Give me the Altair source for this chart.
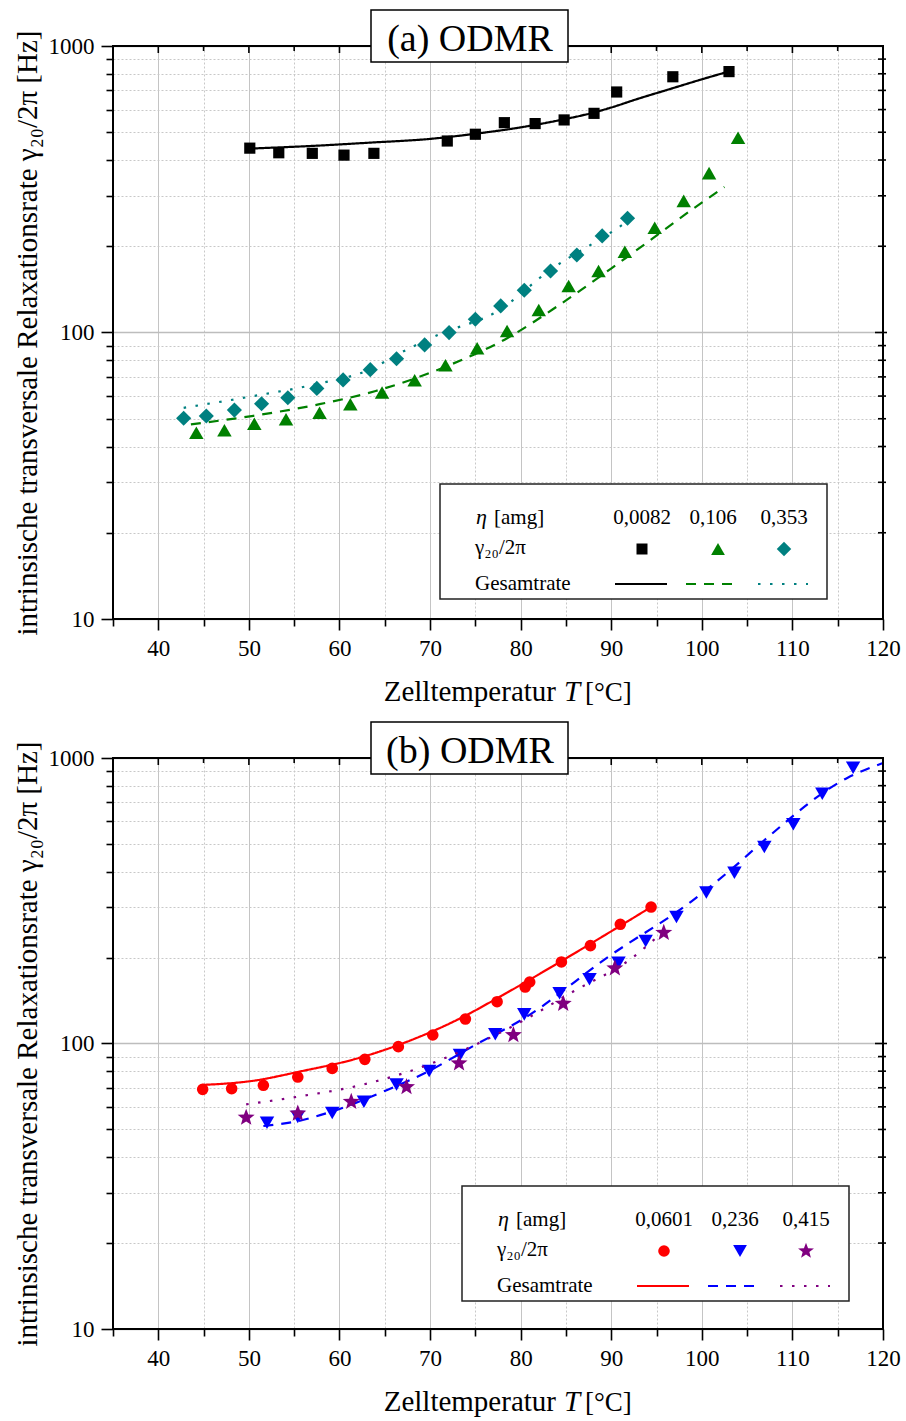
import math
import altair as alt
import pandas as pd

FONT = "Liberation Serif"

# ---------------- data: panel (a) ----------------
a_sq_T = [50.1, 53.3, 57.0, 60.5, 63.8, 71.9, 75.0, 78.2, 81.6, 84.8, 88.1, 90.6, 96.8, 103.0]
a_sq_v = [440, 424, 422, 416, 422, 466, 492, 540, 536, 552, 582, 691, 781, 814]
a_sq_fit_T = [50.5, 57.0, 63.4, 70.0, 75.0, 80.0, 84.8, 88.0, 90.0, 93.0, 96.0, 100.0, 103.0]
a_sq_fit_v = [439, 448, 460, 474, 494, 520, 555, 585, 610, 655, 700, 765, 815]

a_tri_T = [44.2, 47.3, 50.6, 54.1, 57.8, 61.2, 64.7, 68.3, 71.7, 75.2, 78.5, 82.0, 85.3, 88.6, 91.5, 94.8, 98.0, 100.8, 104.0]
a_tri_v = [44.7, 45.6, 48.0, 49.8, 52.5, 56.2, 61.7, 68.1, 76.8, 88.1, 101.2, 119.8, 145.3, 163.9, 191.4, 232, 288, 360, 478]
a_tri_fit_T = [43.6, 50.5, 57.8, 64.0, 71.9, 78.6, 84.3, 91.6, 100.0, 102.5]
a_tri_fit_v = [47.8, 51.2, 56.2, 62.5, 76.4, 95.9, 125, 182, 284, 322]

a_dia_T = [42.8, 45.3, 48.4, 51.4, 54.3, 57.5, 60.4, 63.4, 66.3, 69.4, 72.1, 75.0, 77.8, 80.4, 83.3, 86.2, 89.0, 91.8]
a_dia_v = [50.2, 51.1, 53.6, 56.4, 59.2, 63.8, 68.3, 74.2, 81.0, 90.5, 99.9, 111.2, 123.8, 140.4, 163.9, 186.4, 217.3, 250.4]
a_dia_fit_T = [42.8, 50.5, 57.3, 63.4, 66.8, 71.0, 77.5, 83.1, 90.2, 92.1]
a_dia_fit_v = [54.6, 60.0, 65.9, 74.4, 85.1, 98.5, 118.9, 163.9, 226, 248]

# ---------------- data: panel (b) ----------------
b_cir_T = [44.9, 48.1, 51.6, 55.4, 59.2, 62.8, 66.5, 70.3, 73.9, 77.4, 80.5, 81.0, 84.5, 87.7, 91.0, 94.4]
b_cir_v = [69.1, 69.5, 71.4, 76.3, 81.8, 88.0, 97.5, 107.1, 121.8, 140.1, 157.7, 164.2, 193.0, 220.2, 261.5, 300.6]
b_cir_fit_T = [44.9, 50.3, 55.9, 61.6, 67.2, 72.9, 78.5, 84.2, 89.8, 94.4]
b_cir_fit_v = [71.6, 73.9, 80.1, 88.0, 100.7, 120.6, 150.7, 191.9, 245.0, 300.6]

b_dtri_T = [52.0, 55.4, 59.2, 62.7, 66.3, 69.9, 73.3, 77.2, 80.4, 84.3, 87.6, 90.8, 93.8, 97.2, 100.5, 103.6, 106.9, 110.1, 113.3, 116.7]
b_dtri_v = [52.8, 55.3, 57.1, 62.5, 71.9, 80.1, 91.1, 107.7, 126.5, 149.9, 167.8, 191.9, 228.6, 277.6, 338, 396.5, 487.8, 585.6, 749.9, 924.7]
b_dtri_fit_T = [51.6, 55.4, 59.3, 65.0, 69.5, 75.1, 80.2, 89.8, 98.9, 103.7, 106.8, 116.1, 120.0]
b_dtri_fit_v = [51.4, 53.5, 58.0, 68.2, 79.0, 99.3, 121.5, 202.5, 315.5, 419, 512, 853, 960]

b_star_T = [49.7, 55.4, 61.3, 67.4, 73.2, 79.2, 84.7, 90.4, 95.8]
b_star_v = [55.0, 56.9, 62.5, 70.4, 85.2, 107.1, 137.9, 183.4, 244.4]
b_star_fit_T = [49.7, 55.9, 62.7, 68.9, 74.3, 80.2, 85.9, 92.1, 95.8]
b_star_fit_v = [61.2, 65.5, 71.9, 82.3, 96.7, 119.9, 152.7, 197.2, 247.7]

# ---------------- axes / ticks ----------------
x_ticks = list(range(35, 121, 5))
x_major = [40, 50, 60, 70, 80, 90, 100, 110]
x_minor = [45, 55, 65, 75, 85, 95, 105, 115]
y_ticks = [10, 20, 30, 40, 50, 60, 70, 80, 90, 100, 200, 300, 400, 500, 600, 700, 800, 900, 1000]
y_major = [100]
y_minor = [20, 30, 40, 50, 60, 70, 80, 90, 200, 300, 400, 500, 600, 700, 800, 900]

Y_TITLE = "intrinsische transversale Relaxationsrate γ₂₀/2π [Hz]"

W = 770

# star symbol path
pts = []
for k in range(10):
    ang = math.radians(-90 + 36 * k)
    r = 1.0 if k % 2 == 0 else 0.42
    pts.append(f"{r*math.cos(ang):.3f},{r*math.sin(ang):.3f}")
STAR = "M" + " L".join(pts) + " Z"

X_MAJOR_TEST = "datum.value % 10 === 0"
Y_MAJOR_TEST = "datum.value === 10 || datum.value === 100 || datum.value === 1000"


def x_enc(field):
    return alt.X(
        f"{field}:Q",
        scale=alt.Scale(domain=[35, 120], nice=False, zero=False),
        axis=alt.Axis(
            values=x_ticks, title=None, domain=False,
            labelExpr=f"{X_MAJOR_TEST} ? datum.label : ''",
            labelFont=FONT, labelFontSize=23, labelColor="black",
            labelPadding=7, labelOverlap=False, labelFlush=False,
            tickColor="black", tickWidth=1.6,
            tickSize={"condition": {"test": X_MAJOR_TEST, "value": 11}, "value": 7},
            gridColor={"condition": {"test": X_MAJOR_TEST, "value": "#c4c4c4"}, "value": "#c8c8c8"},
            gridDash={"condition": {"test": X_MAJOR_TEST, "value": []}, "value": [2, 2]},
            gridWidth=1,
        ),
    )


def y_enc(field, h):
    return alt.Y(
        f"{field}:Q",
        scale=alt.Scale(type="log", domain=[10, 1000], nice=False),
        axis=alt.Axis(
            values=y_ticks, title=Y_TITLE, domain=False,
            labelExpr=f"{Y_MAJOR_TEST} ? format(datum.value, 'd') : ''",
            labelFont=FONT, labelFontSize=23, labelColor="black",
            labelPadding=7, labelOverlap=False, labelFlush=False,
            tickColor="black", tickWidth=1.6,
            tickSize={"condition": {"test": Y_MAJOR_TEST, "value": 12}, "value": 7},
            gridColor={"condition": {"test": Y_MAJOR_TEST, "value": "#bdbdbd"}, "value": "#c8c8c8"},
            gridDash={"condition": {"test": Y_MAJOR_TEST, "value": []}, "value": [2, 2]},
            gridWidth={"condition": {"test": Y_MAJOR_TEST, "value": 1.5}, "value": 1},
            titleFont=FONT, titleFontSize=29, titleFontWeight="normal", titleColor="black",
            titleAngle=270, titleBaseline="alphabetic", titleX=-77, titleY=h / 2,
        ),
    )


ONE = pd.DataFrame({"k": [0]})


def series_layers(T, v, fitT, fitv, color, shape, size, dash, h):
    pts_df = pd.DataFrame({"T": T, "v": v})
    fit_df = pd.DataFrame({"T": fitT, "v": fitv})
    line = alt.Chart(fit_df).mark_line(
        color=color, strokeWidth=2.2, interpolate="monotone",
        strokeDash=dash, strokeCap="butt",
    ).encode(x=x_enc("T"), y=y_enc("v", h))
    points = alt.Chart(pts_df).mark_point(
        shape=shape, filled=True, size=size, color=color, opacity=1,
    ).encode(x=x_enc("T"), y=y_enc("v", h))
    return line, points


def text_at(s, x, y, size, align="left", style="normal", baseline="alphabetic"):
    return alt.Chart(ONE).mark_text(
        font=FONT, fontSize=size, align=align, baseline=baseline,
        fontStyle=style, color="black",
    ).encode(x=alt.value(x), y=alt.value(y), text=alt.value(s))


def frame_layers(h):
    frame = alt.Chart(ONE).mark_rect(
        fillOpacity=0, stroke="black", strokeWidth=2,
    ).encode(x=alt.value(0), x2=alt.value(W), y=alt.value(0), y2=alt.value(h))
    top_major = alt.Chart(pd.DataFrame({"t": x_major})).mark_rule(color="black", strokeWidth=1.6).encode(
        x=x_enc("t"), y=alt.value(0), y2=alt.value(7))
    top_minor = alt.Chart(pd.DataFrame({"t": x_minor})).mark_rule(color="black", strokeWidth=1.6).encode(
        x=x_enc("t"), y=alt.value(0), y2=alt.value(5))
    right_major = alt.Chart(pd.DataFrame({"t": y_major})).mark_rule(color="black", strokeWidth=1.6).encode(
        y=y_enc("t", h), x=alt.value(W - 8), x2=alt.value(W + 4))
    right_minor = alt.Chart(pd.DataFrame({"t": y_minor})).mark_rule(color="black", strokeWidth=1.6).encode(
        y=y_enc("t", h), x=alt.value(W - 5), x2=alt.value(W + 3))
    return [frame, top_major, top_minor, right_major, right_minor]


def legend_layers(bx, by, values, colors, shapes, sizes, dashes):
    layers = []
    layers.append(alt.Chart(ONE).mark_rect(
        fill="white", stroke="#222222", strokeWidth=1.5,
    ).encode(x=alt.value(bx), x2=alt.value(bx + 387), y=alt.value(by), y2=alt.value(by + 115)))
    layers.append(text_at("η", bx + 36, by + 39.5, 22, style="italic"))
    layers.append(text_at("[amg]", bx + 54, by + 39.5, 21))
    layers.append(text_at("γ₂₀/2π", bx + 35, by + 70, 21))
    layers.append(text_at("Gesamtrate", bx + 35, by + 106, 21))
    val_cx = [202, 273, 344]
    sym_cx = [202, 278, 344]
    line_x = [(175, 227), (246, 296), (318, 368)]
    for i in range(3):
        layers.append(text_at(values[i], bx + val_cx[i], by + 39.5, 21, align="center"))
        layers.append(alt.Chart(ONE).mark_point(
            shape=shapes[i], filled=True, size=sizes[i], color=colors[i], opacity=1,
        ).encode(x=alt.value(bx + sym_cx[i]), y=alt.value(by + 65)))
        layers.append(alt.Chart(ONE).mark_rule(
            color=colors[i], strokeWidth=2.2, strokeDash=dashes[i], strokeCap="butt",
        ).encode(x=alt.value(bx + line_x[i][0]), x2=alt.value(bx + line_x[i][1]), y=alt.value(by + 100)))
    return layers


def title_layers(label):
    box = alt.Chart(ONE).mark_rect(
        fill="white", stroke="black", strokeWidth=1.5,
    ).encode(x=alt.value(258), x2=alt.value(455), y=alt.value(-36), y2=alt.value(16))
    txt = text_at(label, 357, 4.5, 38, align="center")
    return [box, txt]


def xtitle_layers(h):
    yb = h + 82
    return [
        text_at("Zelltemperatur", 443, yb, 29, align="right"),
        text_at("T", 459, yb, 29, align="center", style="italic"),
        text_at("[°C]", 472, yb, 27, align="left"),
    ]


SOLID = [1, 0]
DASH = [10, 8]
DOT = [2.5, 9.5]

# ---------------- panel (a) ----------------
HA = 573
la = []
for args in [
    (a_sq_T, a_sq_v, a_sq_fit_T, a_sq_fit_v, "#000000", "square", 125, SOLID),
    (a_tri_T, a_tri_v, a_tri_fit_T, a_tri_fit_v, "#008000", "triangle-up", 210, DASH),
    (a_dia_T, a_dia_v, a_dia_fit_T, a_dia_fit_v, "#008080", "diamond", 230, DOT),
]:
    line, pts_ = series_layers(*args, HA)
    la.append(line)
    la.append(pts_)
la += frame_layers(HA)
la += legend_layers(327, 438, ["0,0082", "0,106", "0,353"],
                    ["#000000", "#008000", "#008080"],
                    ["square", "triangle-up", "diamond"], [121, 190, 210],
                    [SOLID, DASH, DOT])
la += title_layers("(a) ODMR")
la += xtitle_layers(HA)
panel_a = alt.layer(*la).properties(width=W, height=HA)

# ---------------- panel (b) ----------------
HB = 571
lb = []
for args in [
    (b_cir_T, b_cir_v, b_cir_fit_T, b_cir_fit_v, "#ff0000", "circle", 135, SOLID),
    (b_dtri_T, b_dtri_v, b_dtri_fit_T, b_dtri_fit_v, "#0000ff", "triangle-down", 210, DASH),
    (b_star_T, b_star_v, b_star_fit_T, b_star_fit_v, "#800080", STAR, 320, DOT),
]:
    line, pts_ = series_layers(*args, HB)
    lb.append(line)
    lb.append(pts_)
lb += frame_layers(HB)
lb += legend_layers(349, 428, ["0,0601", "0,236", "0,415"],
                    ["#ff0000", "#0000ff", "#800080"],
                    ["circle", "triangle-down", STAR], [135, 190, 280],
                    [SOLID, DASH, DOT])
lb += title_layers("(b) ODMR")
lb += xtitle_layers(HB)
panel_b = alt.layer(*lb).properties(width=W, height=HB)

chart = alt.vconcat(panel_a, panel_b, spacing=14).properties(
    padding={"left": 12, "top": 9, "right": 5, "bottom": 5},
    background="white",
).configure_view(stroke=None).configure_axis(
    labelFont=FONT, labelFontSize=23, labelColor="black",
    titleFont=FONT, titleColor="black",
)

chart.save("out.html", embed_options={"renderer": "svg", "actions": False})
